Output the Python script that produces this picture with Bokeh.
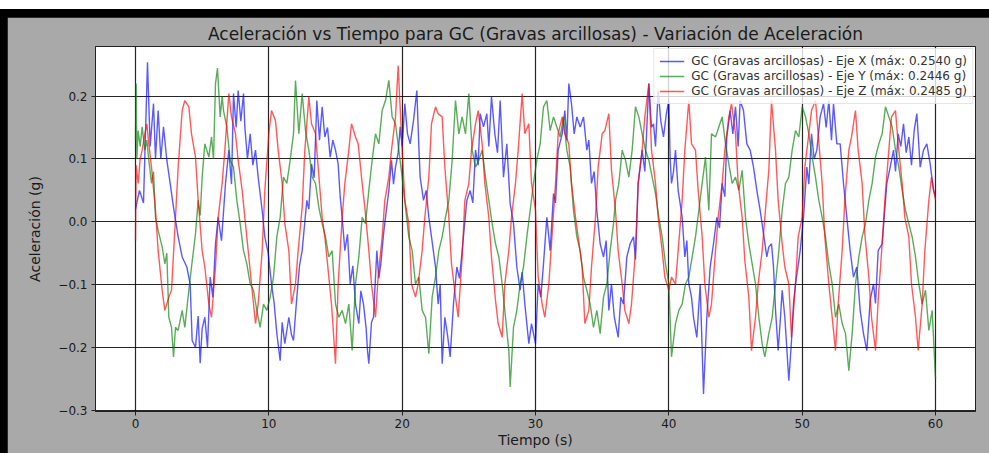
from bokeh.plotting import figure
from bokeh.models import Range1d, FixedTicker, CustomJSTickFormatter
from bokeh.layouts import column
from bokeh.embed import file_html
from bokeh.resources import INLINE

# ---------------- data (time s, acceleration g) ----------------
samples_x = [
    (0, 0.02), (0.3, 0.05), (0.6, 0.03), (0.9, 0.254), (1.1, 0.12), (1.35, 0.188), (1.5, 0.10),
    (1.7, 0.177), (1.9, 0.10), (2.1, 0.151), (2.35, 0.098), (2.6, 0.061), (2.85, 0.023),
    (3.2, -0.024), (3.5, -0.056), (3.85, -0.072), (4.1, -0.099), (4.25, -0.189), (4.5, -0.20),
    (4.7, -0.15), (4.85, -0.225), (5.0, -0.17), (5.2, -0.152), (5.4, -0.2), (5.6, -0.088),
    (5.8, -0.12), (6.0, -0.035), (6.2, 0.007), (6.45, -0.03), (6.75, 0.061), (7.0, 0.114),
    (7.2, 0.06), (7.35, 0.204), (7.55, 0.15), (7.7, 0.209), (7.9, 0.16), (8.1, 0.204),
    (8.2, 0.151), (8.4, 0.10), (8.6, 0.14), (8.8, 0.09), (9.0, 0.114), (9.2, 0.071),
    (9.5, 0.018), (9.7, -0.024), (9.95, -0.05), (10.2, -0.099), (10.4, -0.13), (10.6, -0.178),
    (10.85, -0.221), (11.0, -0.16), (11.2, -0.194), (11.5, -0.152), (11.7, -0.18),
    (11.85, -0.189), (12.1, -0.12), (12.3, -0.07), (12.5, -0.046), (12.7, 0.0), (12.85, 0.034),
    (13.0, 0.02), (13.2, 0.092), (13.4, 0.07), (13.6, 0.193), (13.8, 0.13), (14.0, 0.183),
    (14.2, 0.135), (14.4, 0.15), (14.6, 0.103), (14.8, 0.13), (15.0, 0.114), (15.2, 0.092),
    (15.35, 0.04), (15.5, 0.007), (15.7, -0.046), (15.9, -0.02), (16.1, -0.099), (16.3, -0.07),
    (16.5, -0.131), (16.75, -0.162), (16.9, -0.11), (17.1, -0.131), (17.3, -0.17),
    (17.4, -0.205), (17.5, -0.226), (17.7, -0.16), (17.85, -0.152), (18.1, -0.046),
    (18.25, -0.09), (18.4, -0.067), (18.6, -0.02), (18.75, 0.007), (19.0, 0.05), (19.2, 0.098),
    (19.35, 0.06), (19.5, 0.087), (19.7, 0.11), (19.85, 0.151), (20.0, 0.12), (20.2, 0.188),
    (20.4, 0.14), (20.6, 0.124), (20.85, 0.161), (21.1, 0.209), (21.25, 0.12), (21.35, 0.071),
    (21.6, 0.034), (21.8, 0.05), (22.0, 0.007), (22.2, -0.024), (22.5, -0.072), (22.7, -0.131),
    (22.85, -0.1), (23.0, -0.226), (23.2, -0.152), (23.4, -0.18), (23.6, -0.215),
    (23.85, -0.13), (24.1, -0.072), (24.3, -0.09), (24.5, -0.046), (24.7, 0.0), (24.85, 0.034),
    (25.1, 0.05), (25.3, 0.03), (25.5, 0.114), (25.7, 0.09), (25.85, 0.172), (26.1, 0.151),
    (26.35, 0.172), (26.5, 0.12), (26.7, 0.199), (26.95, 0.14), (27.15, 0.11), (27.35, 0.193),
    (27.6, 0.071), (27.85, 0.124), (28.1, 0.029), (28.35, -0.003), (28.6, -0.072),
    (28.85, -0.109), (29.0, -0.08), (29.2, -0.131), (29.5, -0.194), (29.7, -0.162),
    (30.0, -0.194), (30.2, -0.099), (30.4, -0.12), (30.6, -0.067), (30.85, 0.007),
    (31.1, -0.046), (31.35, 0.045), (31.5, 0.03), (31.7, 0.114), (32.0, 0.14), (32.2, 0.177),
    (32.35, 0.13), (32.5, 0.22), (32.7, 0.188), (32.9, 0.14), (33.1, 0.167), (33.35, 0.151),
    (33.6, 0.167), (33.85, 0.114), (34.0, 0.13), (34.2, 0.061), (34.4, 0.08), (34.6, 0.018),
    (34.85, -0.035), (35.1, -0.056), (35.3, -0.03), (35.5, -0.141), (35.7, -0.099),
    (35.9, -0.15), (36.2, -0.184), (36.4, -0.12), (36.6, -0.131), (36.85, -0.056),
    (37.1, -0.035), (37.35, -0.024), (37.5, -0.06), (37.7, 0.061), (38.0, 0.114), (38.2, 0.08),
    (38.5, 0.22), (38.7, 0.15), (38.85, 0.156), (39.0, 0.12), (39.2, 0.209), (39.4, 0.16),
    (39.6, 0.135), (39.8, 0.17), (40.0, 0.193), (40.1, 0.10), (40.2, 0.061), (40.35, 0.08),
    (40.5, 0.114), (40.7, 0.05), (41.0, 0.007), (41.2, -0.056), (41.35, -0.03), (41.5, -0.099),
    (41.7, -0.12), (41.85, -0.152), (42.1, -0.184), (42.35, -0.099), (42.6, -0.274),
    (42.85, -0.152), (43.1, -0.072), (43.35, -0.035), (43.6, 0.007), (43.8, -0.01),
    (44.0, 0.061), (44.2, 0.04), (44.35, 0.135), (44.6, 0.177), (44.8, 0.14), (45.0, 0.183),
    (45.2, 0.12), (45.35, 0.193), (45.6, 0.177), (45.85, 0.124), (46.1, 0.114), (46.35, 0.087),
    (46.6, 0.05), (46.85, 0.018), (47.1, -0.019), (47.35, -0.056), (47.5, -0.04),
    (47.7, -0.035), (47.85, -0.072), (48.0, -0.14), (48.2, -0.205), (48.35, -0.16),
    (48.5, -0.109), (48.7, -0.152), (49.0, -0.253), (49.2, -0.189), (49.35, -0.13),
    (49.5, -0.099), (49.7, -0.07), (49.85, -0.046), (50.1, 0.007), (50.35, 0.087), (50.5, 0.06),
    (50.7, 0.14), (50.9, 0.1), (51.1, 0.114), (51.35, 0.167), (51.6, 0.188), (51.8, 0.15),
    (52.0, 0.193), (52.2, 0.13), (52.35, 0.188), (52.6, 0.124), (52.85, 0.124), (53.1, 0.061),
    (53.35, 0.007), (53.6, -0.046), (53.85, -0.088), (54.1, -0.072), (54.35, -0.141),
    (54.6, -0.178), (54.85, -0.205), (55.1, -0.125), (55.35, -0.099), (55.5, -0.13),
    (55.7, -0.046), (56.0, -0.035), (56.2, 0.02), (56.35, 0.061), (56.6, 0.087), (56.85, 0.114),
    (57.0, 0.08), (57.2, 0.14), (57.4, 0.12), (57.6, 0.156), (57.8, 0.11), (58.0, 0.135),
    (58.2, 0.09), (58.4, 0.145), (58.6, 0.172), (58.85, 0.087), (59.1, 0.114), (59.35, 0.124),
    (59.6, 0.092), (59.85, 0.05), (60.0, 0.04),
]

samples_y = [
    (0, 0.13), (0.05, 0.22), (0.1, 0.10), (0.2, 0.145), (0.35, 0.12), (0.5, 0.151), (0.7, 0.114),
    (0.85, 0.13), (1.0, 0.098), (1.2, 0.061), (1.35, 0.08), (1.5, 0.007), (1.7, -0.014),
    (2.0, -0.04), (2.2, -0.067), (2.35, -0.05), (2.5, -0.152), (2.7, -0.168), (2.85, -0.215),
    (3.0, -0.168), (3.2, -0.173), (3.5, -0.141), (3.7, -0.168), (4.0, -0.109), (4.2, -0.072),
    (4.5, -0.019), (4.7, 0.034), (4.85, 0.01), (5.0, 0.071), (5.2, 0.124), (5.5, 0.103),
    (5.7, 0.135), (5.85, 0.10), (6.0, 0.22), (6.15, 0.2446), (6.35, 0.167), (6.5, 0.2),
    (6.6, 0.177), (6.85, 0.151), (7.1, 0.098), (7.35, 0.087), (7.6, 0.034), (7.85, -0.003),
    (8.1, -0.046), (8.35, -0.067), (8.6, -0.099), (8.85, -0.109), (9.1, -0.141), (9.35, -0.168),
    (9.6, -0.131), (9.85, -0.141), (10.1, -0.12), (10.35, -0.088), (10.6, -0.024),
    (10.85, 0.007), (11.1, 0.071), (11.35, 0.061), (11.6, 0.098), (11.85, 0.14), (12.0, 0.225),
    (12.25, 0.14), (12.5, 0.204), (12.75, 0.145), (13.0, 0.114), (13.25, 0.071), (13.5, 0.061),
    (13.75, 0.023), (14.0, -0.003), (14.25, -0.024), (14.5, -0.056), (14.75, -0.046),
    (15.0, -0.131), (15.25, -0.152), (15.5, -0.141), (15.75, -0.162), (16.0, -0.131),
    (16.25, -0.205), (16.5, -0.099), (16.75, -0.056), (17.0, 0.007), (17.25, -0.003),
    (17.5, 0.05), (17.75, 0.098), (18.0, 0.14), (18.25, 0.124), (18.5, 0.177), (18.75, 0.193),
    (19.0, 0.225), (19.25, 0.167), (19.5, 0.156), (19.75, 0.114), (20.0, 0.071), (20.25, 0.023),
    (20.5, -0.024), (20.75, -0.046), (21.0, -0.099), (21.25, -0.088), (21.5, -0.141),
    (21.75, -0.152), (22.0, -0.21), (22.25, -0.12), (22.5, -0.088), (22.75, -0.046),
    (23.0, -0.024), (23.25, 0.007), (23.5, 0.034), (23.75, 0.098), (24.0, 0.193), (24.25, 0.14),
    (24.5, 0.167), (24.75, 0.14), (25.0, 0.204), (25.25, 0.114), (25.5, 0.087), (25.75, 0.098),
    (26.0, 0.114), (26.25, 0.071), (26.5, 0.034), (26.75, -0.003), (27.0, -0.035),
    (27.25, -0.056), (27.5, -0.099), (27.75, -0.152), (28.0, -0.205), (28.1, -0.263),
    (28.35, -0.168), (28.6, -0.141), (28.85, -0.099), (29.1, -0.072), (29.35, -0.024),
    (29.6, 0.018), (29.85, 0.061), (30.1, 0.098), (30.35, 0.124), (30.6, 0.183), (30.85, 0.193),
    (31.1, 0.145), (31.35, 0.167), (31.6, 0.151), (31.85, 0.135), (32.1, 0.167), (32.35, 0.114),
    (32.6, 0.087), (32.85, 0.018), (33.1, -0.024), (33.35, -0.046), (33.6, -0.088),
    (33.85, -0.109), (34.1, -0.131), (34.35, -0.168), (34.6, -0.141), (34.85, -0.178),
    (35.1, -0.12), (35.35, -0.099), (35.6, -0.046), (35.85, -0.003), (36.0, 0.034),
    (36.25, 0.061), (36.5, 0.114), (36.75, 0.098), (37.0, 0.071), (37.25, 0.114), (37.5, 0.183),
    (37.75, 0.167), (38.0, 0.14), (38.25, 0.114), (38.5, 0.098), (38.75, 0.071), (39.0, 0.045),
    (39.25, 0.007), (39.5, -0.024), (39.75, -0.067), (40.0, -0.099), (40.2, -0.215),
    (40.5, -0.162), (40.75, -0.141), (41.0, -0.131), (41.25, -0.099), (41.5, -0.088),
    (41.75, -0.056), (42.0, -0.024), (42.25, 0.018), (42.5, 0.061), (42.75, 0.103),
    (43.0, 0.018), (43.2, 0.14), (43.5, 0.135), (43.75, 0.151), (44.0, 0.167), (44.25, 0.124),
    (44.5, 0.092), (44.75, 0.061), (45.0, 0.071), (45.25, 0.05), (45.5, 0.082), (45.75, 0.007),
    (46.0, -0.035), (46.25, -0.067), (46.5, -0.099), (46.75, -0.152), (47.0, -0.194),
    (47.2, -0.215), (47.5, -0.178), (47.75, -0.152), (48.0, -0.099), (48.25, -0.046),
    (48.5, 0.018), (48.75, 0.061), (49.0, 0.071), (49.25, 0.114), (49.5, 0.145), (49.75, 0.135),
    (50.0, 0.183), (50.25, 0.167), (50.5, 0.14), (50.75, 0.103), (51.0, 0.071), (51.25, 0.034),
    (51.5, 0.007), (51.75, -0.024), (52.0, -0.067), (52.25, -0.099), (52.5, -0.152),
    (52.75, -0.131), (53.0, -0.162), (53.25, -0.178), (53.5, -0.237), (53.75, -0.178),
    (54.0, -0.099), (54.25, -0.056), (54.5, -0.024), (54.75, -0.003), (55.0, 0.034),
    (55.25, 0.061), (55.5, 0.103), (55.75, 0.124), (56.0, 0.14), (56.25, 0.183), (56.5, 0.167),
    (56.75, 0.151), (57.0, 0.114), (57.25, 0.087), (57.5, 0.05), (57.75, 0.018), (58.0, -0.003),
    (58.25, -0.024), (58.5, -0.056), (58.75, -0.099), (59.0, -0.131), (59.25, -0.109),
    (59.5, -0.173), (59.75, -0.141), (60.0, -0.25),
]

samples_z = [
    (0, -0.03), (0.05, 0.09), (0.2, 0.061), (0.35, 0.1), (0.5, 0.114), (0.7, 0.14), (0.85, 0.156),
    (1.0, 0.124), (1.2, 0.087), (1.5, 0.018), (1.7, -0.046), (2.0, -0.109), (2.2, -0.141),
    (2.5, -0.12), (2.7, -0.109), (3.0, 0.007), (3.2, 0.087), (3.5, 0.177), (3.7, 0.193),
    (4.0, 0.183), (4.2, 0.14), (4.5, 0.103), (4.7, 0.034), (5.0, -0.046), (5.2, -0.072),
    (5.5, -0.131), (5.7, -0.152), (6.0, -0.072), (6.2, 0.007), (6.5, 0.061), (6.7, 0.114),
    (7.0, 0.204), (7.2, 0.167), (7.5, 0.14), (7.7, 0.098), (8.0, 0.05), (8.2, 0.007),
    (8.5, -0.056), (8.7, -0.099), (9.0, -0.162), (9.2, -0.131), (9.5, -0.046), (9.7, 0.05),
    (10.0, 0.14), (10.2, 0.177), (10.5, 0.161), (10.7, 0.114), (11.0, 0.061), (11.2, -0.003),
    (11.5, -0.046), (11.7, -0.131), (12.0, -0.099), (12.2, -0.046), (12.5, 0.023), (12.7, 0.114),
    (13.0, 0.199), (13.2, 0.156), (13.5, 0.14), (13.7, 0.087), (14.0, 0.007), (14.2, -0.024),
    (14.5, -0.088), (14.7, -0.131), (15.0, -0.226), (15.2, -0.099), (15.5, 0.007), (15.7, 0.061),
    (16.0, 0.114), (16.2, 0.156), (16.5, 0.135), (16.7, 0.124), (17.0, 0.061), (17.2, 0.023),
    (17.5, -0.046), (17.7, -0.099), (18.0, -0.152), (18.2, -0.088), (18.5, -0.024),
    (18.7, 0.034), (19.0, 0.071), (19.2, 0.114), (19.5, 0.167), (19.7, 0.2485), (20.0, 0.114),
    (20.2, 0.034), (20.5, -0.003), (20.7, -0.099), (21.0, -0.12), (21.2, -0.099), (21.5, -0.046),
    (21.7, 0.007), (22.0, 0.071), (22.2, 0.156), (22.5, 0.183), (22.7, 0.172), (23.0, 0.167),
    (23.2, 0.087), (23.5, 0.007), (23.7, -0.067), (24.0, -0.12), (24.2, -0.152), (24.5, -0.056),
    (24.7, 0.034), (25.0, 0.061), (25.2, 0.114), (25.5, 0.156), (25.7, 0.177), (26.0, 0.124),
    (26.2, 0.061), (26.5, 0.007), (26.7, -0.056), (27.0, -0.125), (27.2, -0.162),
    (27.5, -0.184), (27.7, -0.099), (28.0, -0.046), (28.2, 0.007), (28.5, 0.061), (28.7, 0.114),
    (29.0, 0.204), (29.2, 0.14), (29.5, 0.156), (29.7, 0.061), (30.0, 0.018), (30.2, -0.088),
    (30.5, -0.131), (30.7, -0.152), (31.0, -0.099), (31.2, -0.035), (31.5, 0.061), (31.7, 0.14),
    (32.0, 0.167), (32.2, 0.14), (32.5, 0.124), (32.7, 0.061), (33.0, 0.007), (33.2, -0.024),
    (33.5, -0.072), (33.7, -0.162), (34.0, -0.141), (34.2, -0.072), (34.5, 0.007), (34.7, 0.087),
    (35.0, 0.14), (35.2, 0.145), (35.5, 0.172), (35.7, 0.082), (36.0, 0.018), (36.2, -0.046),
    (36.5, -0.099), (36.7, -0.141), (37.0, -0.162), (37.2, -0.131), (37.5, -0.046),
    (37.7, 0.061), (38.0, 0.114), (38.2, 0.167), (38.5, 0.22), (38.7, 0.114), (39.0, 0.061),
    (39.2, 0.007), (39.5, -0.046), (39.7, -0.088), (40.0, -0.109), (40.2, -0.088),
    (40.5, -0.099), (40.7, -0.046), (41.0, 0.034), (41.2, 0.114), (41.5, 0.193), (41.7, 0.124),
    (42.0, 0.114), (42.2, 0.05), (42.5, -0.024), (42.7, -0.099), (43.0, -0.152), (43.2, -0.131),
    (43.5, -0.046), (43.7, 0.007), (44.0, 0.061), (44.2, 0.114), (44.5, 0.167), (44.7, 0.188),
    (45.0, 0.14), (45.2, 0.061), (45.5, 0.007), (45.7, -0.062), (46.0, -0.12), (46.2, -0.205),
    (46.5, -0.152), (46.7, -0.099), (47.0, -0.046), (47.2, 0.007), (47.5, 0.082), (47.7, 0.193),
    (48.0, 0.114), (48.2, 0.034), (48.5, -0.035), (48.7, -0.072), (49.0, -0.099),
    (49.2, -0.184), (49.5, -0.099), (49.7, -0.024), (50.0, 0.007), (50.2, 0.087), (50.5, 0.14),
    (50.7, 0.177), (51.0, 0.193), (51.2, 0.14), (51.5, 0.061), (51.7, -0.024), (52.0, -0.099),
    (52.2, -0.141), (52.5, -0.205), (52.7, -0.131), (53.0, -0.046), (53.2, 0.034),
    (53.5, 0.114), (53.7, 0.135), (54.0, 0.177), (54.2, 0.114), (54.5, 0.061), (54.7, -0.019),
    (55.0, -0.088), (55.2, -0.152), (55.5, -0.205), (55.7, -0.125), (56.0, -0.035),
    (56.2, 0.034), (56.5, 0.114), (56.7, 0.167), (57.0, 0.177), (57.2, 0.124), (57.5, 0.061),
    (57.7, 0.007), (58.0, -0.024), (58.2, -0.099), (58.5, -0.152), (58.7, -0.205),
    (59.0, -0.131), (59.2, -0.046), (59.5, 0.034), (59.7, 0.071), (60.0, 0.034),
]

series_labels = [
    "GC (Gravas arcillosas) - Eje X (máx: 0.2540 g)",
    "GC (Gravas arcillosas) - Eje Y (máx: 0.2446 g)",
    "GC (Gravas arcillosas) - Eje Z (máx: 0.2485 g)",
]
series_colors = ["blue", "green", "red"]
x_ticks = [0, 10, 20, 30, 40, 50, 60]
y_ticks = [-0.3, -0.2, -0.1, 0.0, 0.1, 0.2]

FONT = "DejaVu Sans"

p = figure(
    frame_width=880, frame_height=365,
    min_border_left=88, min_border_right=14, min_border_top=29, min_border_bottom=42,
    x_range=Range1d(-3, 63), y_range=Range1d(-0.302, 0.279),
    output_backend="svg", toolbar_location=None,
    title="Aceleración vs Tiempo para GC (Gravas arcillosas) - Variación de Aceleración",
)
p.background_fill_color = "white"
p.border_fill_color = "#a9a9a9"
p.outline_line_color = "#222222"
p.outline_line_width = 1

for samples, lab, col in zip([samples_x, samples_y, samples_z], series_labels, series_colors):
    ts = [s[0] for s in samples]
    vs = [s[1] for s in samples]
    p.line(ts, vs, line_color=col, line_alpha=0.65, line_width=1.4, legend_label=lab)

p.title.text_font = FONT
p.title.text_font_size = "17px"
p.title.text_font_style = "normal"
p.title.text_color = "#1a1a1a"
p.title.align = "center"
p.title.standoff = 6

p.xaxis.ticker = FixedTicker(ticks=x_ticks)
p.yaxis.ticker = FixedTicker(ticks=y_ticks)
p.yaxis.formatter = CustomJSTickFormatter(code="return tick.toFixed(1).replace('-', '\u2212');")
p.xaxis.axis_label = "Tiempo (s)"
p.yaxis.axis_label = "Aceleración (g)"
for ax in (p.xaxis, p.yaxis):
    ax.axis_label_text_font = FONT
    ax.axis_label_text_font_size = "14px"
    ax.axis_label_text_font_style = "normal"
    ax.axis_label_text_color = "#1a1a1a"
    ax.major_label_text_font = FONT
    ax.major_label_text_font_size = "12px"
    ax.major_label_text_color = "#1a1a1a"
    ax.major_tick_in = 0
    ax.major_tick_out = 4
    ax.minor_tick_in = 0
    ax.minor_tick_out = 0
    ax.axis_line_color = "#222222"
    ax.major_tick_line_color = "#222222"
p.xaxis.major_label_standoff = 3
p.xaxis.axis_label_standoff = 1
p.yaxis.major_label_standoff = 4
p.yaxis.axis_label_standoff = 12

p.grid.grid_line_color = "black"
p.grid.grid_line_alpha = 0.85
p.grid.grid_line_width = 1.2
p.xgrid.ticker = FixedTicker(ticks=x_ticks)
p.ygrid.ticker = FixedTicker(ticks=y_ticks)

leg = p.legend[0]
leg.location = "top_right"
leg.margin = 2
leg.padding = 5
leg.spacing = 1
leg.label_height = 14
leg.glyph_height = 14
leg.glyph_width = 25
leg.label_standoff = 7
leg.label_text_font = FONT
leg.label_text_font_size = "12px"
leg.label_text_color = "#333333"
leg.border_line_color = "#cccccc"
leg.background_fill_alpha = 0.8

layout = column(p, styles={"background-color": "#000000", "padding-top": "8px",
                           "padding-left": "7px", "margin-top": "9px"})

open("out.html", "w").write(file_html(layout, INLINE))
